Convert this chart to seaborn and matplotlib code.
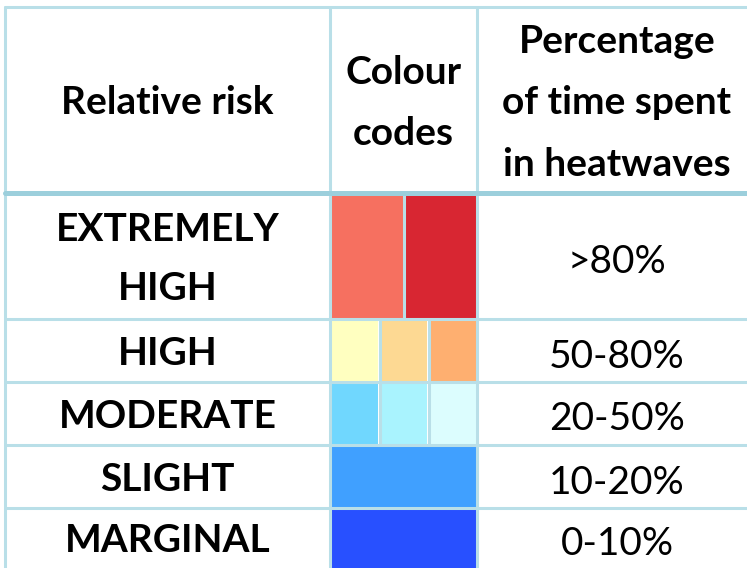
import numpy as np
import matplotlib.pyplot as plt
import seaborn as sns

# Data
headers = ["Relative risk", "Colour\ncodes", "Percentage\nof time spent\nin heatwaves"]
risk_levels = ["EXTREMELY\nHIGH", "HIGH", "MODERATE", "SLIGHT", "MARGINAL"]
colour_codes = [
    ["#f67060", "#d82632"],
    ["#ffffc0", "#fdd993", "#feaf70"],
    ["#70d7fe", "#a9f3fe", "#dcfdfe"],
    ["#40a0ff"],
    ["#2850ff"],
]
percent_ranges = [">80%", "50-80%", "20-50%", "10-20%", "0-10%"]

# Layout (pixel coords)
W, H = 747, 568
col_edges = [5, 330, 477, 757]
row_edges = [7, 193, 319, 382, 445, 508, 580]
grid_col = "#b9dfe8"
head_line_col = "#9ccfdc"
font = ["Lato", "DejaVu Sans"]

sns.set_theme(style="white")
plt.rcParams['font.family'] = font

fig = plt.figure(figsize=(W / 100, H / 100), dpi=100)
ax = fig.add_axes([0, 0, 1, 1])
ax.set_xlim(0, W)
ax.set_ylim(H, 0)
ax.axis('off')

# colour swatches
gap = 3
x0, x1 = col_edges[1] + 2, col_edges[2] - 1
for i, cols in enumerate(colour_codes):
    y0, y1 = row_edges[i + 1] + 2, row_edges[i + 2] - 1
    n = len(cols)
    w = (x1 - x0 - gap * (n - 1)) / n
    lefts = [x0 + k * (w + gap) for k in range(n)]
    ax.bar(lefts, y1 - y0, width=w, bottom=y0, align='edge', color=cols,
           edgecolor='none')
    # thin separators between swatches
    for k in range(1, n):
        xs = lefts[k] - gap / 2
        ax.plot([xs, xs], [y0 - 1, y1 + 1], color=grid_col, lw=2.2)

# grid lines
for x in col_edges:
    ax.plot([x, x], [row_edges[0], H], color=grid_col, lw=2.2)
for j, y in enumerate(row_edges[:-1]):
    if j == 1:
        ax.plot([col_edges[0], W], [y, y], color=head_line_col, lw=3.6)
    else:
        ax.plot([col_edges[0], W], [y, y], color=grid_col, lw=2.2)

# header text
hy = (row_edges[0] + row_edges[1]) / 2 + 3
for j, h in enumerate(headers):
    cx = (col_edges[j] + col_edges[j + 1]) / 2
    ax.text(cx, hy, h, ha='center', va='center', fontsize=28,
            fontweight='bold', linespacing=1.9, color='black')

# rows
for i, (lvl, pr) in enumerate(zip(risk_levels, percent_ranges)):
    yc = (row_edges[i + 1] + min(row_edges[i + 2], H)) / 2 + 3
    ax.text((col_edges[0] + col_edges[1]) / 2, yc, lvl, ha='center',
            va='center', fontsize=28, fontweight='bold', linespacing=1.8,
            color='black')
    ax.text((col_edges[2] + col_edges[3]) / 2, yc + 3, pr, ha='center',
            va='center', fontsize=28, color='black')

fig.savefig('out.png', dpi=100, facecolor='white')
